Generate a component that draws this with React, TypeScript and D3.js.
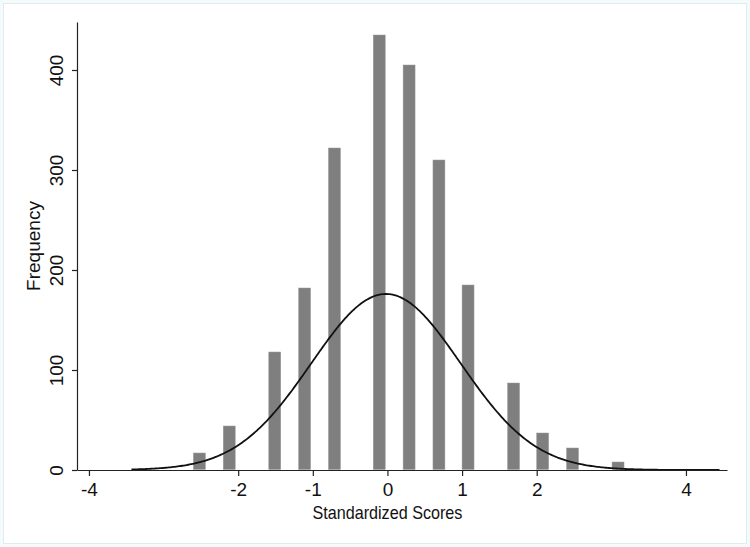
import { useEffect, useRef } from "react";
import * as d3 from "d3";

// Histogram bins (bin midpoints in standardized units) and their counts
const BIN_CENTERS = [-2.52, -2.12, -1.51, -1.11, -0.71, -0.11, 0.29, 0.69, 1.08, 1.69, 2.08, 2.48, 3.09];
const BIN_COUNTS = [17, 44, 118, 182, 322, 435, 405, 310, 185, 87, 37, 22, 8];

// Overlaid normal density (scaled to frequency)
const NORMAL_MEAN = -0.02;
const NORMAL_SD = 1.0;
const NORMAL_PEAK = 176;
const CURVE_RANGE = [-3.43, 4.45];

const X_TICKS = [-4, -2, -1, 0, 1, 2, 4];
const Y_TICKS = [0, 100, 200, 300, 400];

const W = 750;
const H = 547;
const FONT = "'Liberation Sans', Arial, Helvetica, sans-serif";

function draw(svgEl: SVGSVGElement) {
  const svg = d3.select(svgEl);
  svg.selectAll("*").remove();

  svg.append("rect")
    .attr("x", 0).attr("y", 0).attr("width", W).attr("height", H)
    .attr("fill", "#f5fafb");
  svg.append("rect")
    .attr("x", 3.5).attr("y", 3.5).attr("width", W - 7).attr("height", H - 7)
    .attr("fill", "#ffffff")
    .attr("stroke", "#deedf0")
    .attr("stroke-width", 1);

  const x = d3.scaleLinear().domain([-4.16, 4.55]).range([77, 727]);
  const y = d3.scaleLinear().domain([0, 448]).range([470, 22]);

  const binW = x(0.16) - x(0);

  // bars
  svg.append("g")
    .selectAll("rect")
    .data(BIN_CENTERS.map((c, i) => ({ c, n: BIN_COUNTS[i] })))
    .enter()
    .append("rect")
    .attr("x", d => x(d.c) - binW / 2)
    .attr("y", d => y(d.n))
    .attr("width", binW)
    .attr("height", d => y(0) - y(d.n) - 0.5)
    .attr("fill", "#7f7f7f")
    .attr("stroke", "#9a9a9a")
    .attr("stroke-width", 0.5);

  // normal curve
  const pts = d3.range(CURVE_RANGE[0], CURVE_RANGE[1] + 0.001, 0.02).map(v => {
    const z = (v - NORMAL_MEAN) / NORMAL_SD;
    return [v, NORMAL_PEAK * Math.exp(-0.5 * z * z)] as [number, number];
  });
  svg.append("path")
    .attr("d", d3.line<[number, number]>().x(d => x(d[0])).y(d => y(d[1]))(pts))
    .attr("fill", "none")
    .attr("stroke", "#111")
    .attr("stroke-width", 1.8);

  // y axis
  const yAxis = svg.append("g")
    .attr("transform", `translate(${x.range()[0]},0)`)
    .call(d3.axisLeft(y).tickValues(Y_TICKS).tickSize(5).tickSizeOuter(0));
  yAxis.select(".domain").attr("stroke", "#222").attr("stroke-width", 1.2);
  yAxis.selectAll(".tick line").attr("stroke", "#222").attr("stroke-width", 1.2);
  yAxis.selectAll(".tick text")
    .attr("fill", "#111")
    .attr("font-family", FONT)
    .attr("font-size", 19)
    .attr("text-anchor", "middle")
    .attr("transform", "rotate(-90)")
    .attr("x", 0)
    .attr("y", -14.5)
    .attr("dy", "0");

  // x axis
  const xAxis = svg.append("g")
    .attr("transform", `translate(0,${y(0)})`)
    .call(d3.axisBottom(x).tickValues(X_TICKS).tickSize(6).tickPadding(7).tickSizeOuter(0).tickFormat(d => String(d)));
  xAxis.select(".domain").attr("stroke", "#222").attr("stroke-width", 1.2);
  xAxis.selectAll(".tick line").attr("stroke", "#222").attr("stroke-width", 1.2);
  xAxis.selectAll(".tick text")
    .attr("fill", "#111")
    .attr("font-family", FONT)
    .attr("font-size", 19);

  // axis titles
  svg.append("text")
    .attr("x", x(0))
    .attr("y", 519)
    .attr("text-anchor", "middle")
    .attr("fill", "#111")
    .attr("font-family", FONT)
    .attr("font-size", 19)
    .attr("textLength", 150)
    .attr("lengthAdjust", "spacingAndGlyphs")
    .text("Standardized Scores");

  svg.append("text")
    .attr("transform", `translate(40,${(y.range()[0] + y.range()[1]) / 2}) rotate(-90)`)
    .attr("text-anchor", "middle")
    .attr("fill", "#111")
    .attr("font-family", FONT)
    .attr("font-size", 19)
    .text("Frequency");
}

export default function App() {
  const ref = useRef<SVGSVGElement>(null);
  useEffect(() => {
    if (ref.current) draw(ref.current);
  }, []);
  return (
    <svg
      ref={ref}
      width={W}
      height={H}
      style={{ position: "absolute", left: 0, top: 0, display: "block" }}
    />
  );
}
